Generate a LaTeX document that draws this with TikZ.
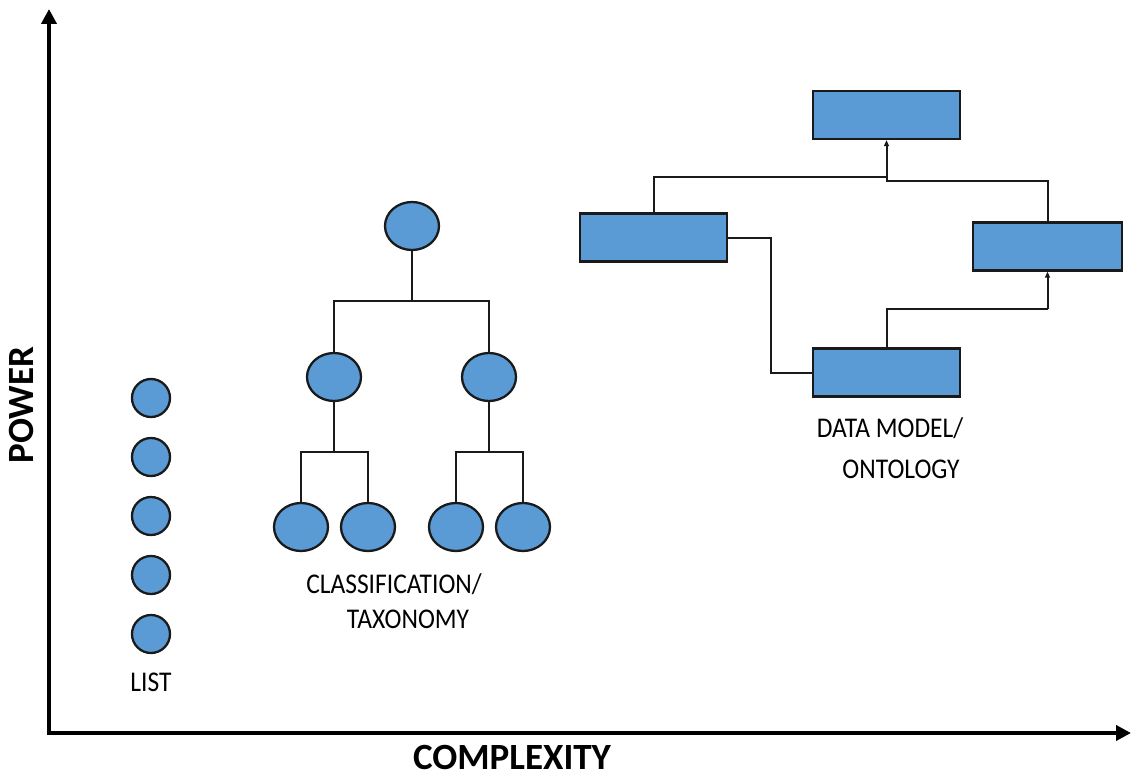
\documentclass[tikz,border=0pt]{standalone}
\usepackage{fontspec}
\setmainfont{Carlito}
\usetikzlibrary{arrows.meta,shapes.geometric}
\definecolor{boxblue}{HTML}{5B9BD5}
\definecolor{edgedark}{HTML}{1A1A1A}
\newcommand{\tallt}[1]{\scalebox{1}[1.12]{#1}}
\tikzset{
  dot/.style={ellipse,draw=edgedark,line width=2.3pt,fill=boxblue,minimum width=38pt,minimum height=38pt,inner sep=0pt},
  tnode/.style={ellipse,draw=edgedark,line width=2.3pt,fill=boxblue,minimum width=54pt,minimum height=48pt,inner sep=0pt},
  rbox/.style={rectangle,draw=edgedark,line width=2.3pt,fill=boxblue,minimum width=147pt,minimum height=48pt,inner sep=0pt},
  conn/.style={draw=edgedark,line width=2pt},
  axis/.style={draw=black,line width=4pt,-{Triangle[length=15pt,width=15pt]}},
  lbl/.style={anchor=base,inner sep=0pt,font=\fontsize{25.5}{30}\selectfont},
  axlbl/.style={anchor=base,inner sep=0pt,font=\fontsize{37}{42}\selectfont\bfseries},
  tip/.style={-{Triangle[length=6pt,width=5pt]}}
}
\begin{document}
\begin{tikzpicture}[x=1pt,y=-1pt]
\useasboundingbox (0,0) rectangle (1131,778);
% axes
\coordinate (o) at (49,733);
\coordinate (ytop) at (49,9);
\coordinate (xend) at (1131,733);
\draw[axis] ([yshift=-2pt]o) -- (ytop);
\draw[axis] ([xshift=-2pt]o) -- (xend);
\node[axlbl,rotate=90] (power) at (33,405) {POWER};
\node[axlbl] (complexity) at (512,769) {COMPLEXITY};
% list
\node[dot] (l1) at (151,398) {};
\node[dot] (l2) at (151,457) {};
\node[dot] (l3) at (151,516) {};
\node[dot] (l4) at (151,575) {};
\node[dot] (l5) at (151,634) {};
\node[lbl] (listlbl) at (151,691) {\tallt{LIST}};
% taxonomy
\node[tnode] (root) at (412,226) {};
\node[tnode] (ca) at (334,377) {};
\node[tnode] (cb) at (489,377) {};
\node[tnode] (la) at (301,527) {};
\node[tnode] (lb) at (368,527) {};
\node[tnode] (lc) at (456,527) {};
\node[tnode] (ld) at (523,527) {};
\coordinate (b0) at (412,301);
\coordinate (b1) at (334,452);
\coordinate (b2) at (489,452);
\draw[conn] (root.south) -- (b0);
\draw[conn] (ca.north) |- (b0) -| (cb.north);
\draw[conn] (ca.south) -- (b1);
\draw[conn] (la.north) |- (b1) -| (lb.north);
\draw[conn] (cb.south) -- (b2);
\draw[conn] (lc.north) |- (b2) -| (ld.north);
\node[lbl] (tax1) at (394,593) {\tallt{CLASSIFICATION/}};
\node[lbl] (tax2) at (408,628) {\tallt{TAXONOMY}};
% data model
\node[rbox] (top) at (886.5,115) {};
\node[rbox] (left) at (653.5,237.5) {};
\node[rbox,minimum width=149pt] (right) at (1047.5,246.5) {};
\node[rbox] (bottom) at (886.5,372.5) {};
\coordinate (j1) at (886.5,177);
\coordinate (j2) at (886.5,181);
\coordinate (c2) at (1047.5,309);
\draw[conn] (left.north) |- (j1);
\draw[conn] (right.north) |- (j2) -- (j1);
\draw[conn,tip] (j1) -- (top.south);
\draw[conn] (left.east) -- ++(43,0) |- (bottom.west);
\draw[conn] (bottom.north) |- (c2);
\draw[conn,tip] (c2) -- (right.south);
\node[lbl] (dm1) at (890,437) {\tallt{DATA MODEL/}};
\node[lbl] (dm2) at (901,478) {\tallt{ONTOLOGY}};
\end{tikzpicture}
\end{document}
